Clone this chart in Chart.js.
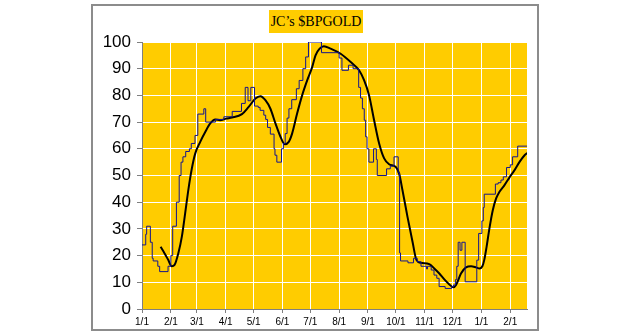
<!DOCTYPE html>
<html>
<head>
<meta charset="utf-8">
<script src="https://cdn.jsdelivr.net/npm/chart.js@4"></script>
<style>
  body { margin: 0; background: #fff; }
  #wrap { position: relative; width: 630px; height: 336px; }
  #title {
    position: absolute; left: 269px; top: 10px; width: 94px; height: 23px;
    background: #FFCC00; font: 14px "Liberation Serif", "Times New Roman", serif;
    line-height: 24px; text-align: center; color: #000;
  }
</style>
</head>
<body>
<div id="wrap">
  <canvas id="chart" width="630" height="336"></canvas>
  <div id="title">JC’s $BPGOLD</div>
</div>
<script>
// days counted from 1/1
const monthDays = [0, 31, 59, 90, 120, 151, 181, 212, 243, 273, 304, 334, 365, 396];
const monthLabels = ["1/1", "2/1", "3/1", "4/1", "5/1", "6/1", "7/1", "8/1", "9/1", "10/1", "11/1", "12/1", "1/1", "2/1"];

// $BPGOLD (step line) - day where the value changes, and the new value
const bpDays = [0, 4, 5, 9, 11, 12, 17, 19, 28, 31, 33, 37, 40, 42, 44, 47, 51, 53, 57, 60, 66.5, 68.5, 79, 88, 97,
  107, 111, 114, 117, 121, 125, 127, 131, 133, 135, 138, 142, 143, 145, 150, 152, 154, 156, 158, 161, 166, 169, 173, 176, 179,
  193, 212, 215, 222, 227, 233, 235, 237, 239, 240.5, 242, 244, 249, 252, 253, 263, 267, 271, 275.5, 277, 278,
  286, 292, 296, 300, 306, 307, 311, 314, 317, 319.5, 326, 333, 335, 337, 338.5, 340, 342, 344, 347.5,
  360, 362, 365.5, 367, 368, 380, 383, 386, 388.5, 392, 396, 398.5, 404, 414];
const bpValues = [24, 28, 31, 25, 19, 18, 16, 14, 16, 20, 31, 40, 50, 55, 57, 59, 60, 62, 65, 73, 75, 70, 71, 72, 74,
  77, 83, 78, 83, 76, 75.5, 74.4, 72.6, 71, 68, 65.5, 60, 57.6, 55, 60, 62, 65.7, 71.5, 75, 78.4, 82.5, 85.6, 90, 94.4, 100,
  96, 94, 89.4, 91.3, 90, 83, 79, 75, 70.7, 64.5, 60, 55, 60, 56, 50, 52.5, 53.5, 57, 51, 21, 18,
  17.3, 19, 17.7, 16, 15, 16, 14.6, 12.7, 11.5, 8.4, 7.7, 8.4, 9, 11, 16, 25, 22, 25, 10.2,
  18.3, 28.3, 33, 38, 43, 46.8, 47.3, 48.3, 49.5, 53, 54, 57, 61, 61];

// moving average (smooth black line)
const avgDays = [20, 24, 28, 32, 35, 39, 42.8, 46.4, 50, 53.6, 57.2, 62.6, 68, 73.4, 78.7, 84, 90.6, 96.7, 107.5, 114.7,
  121.9, 127.3, 132.7, 138.1, 143.5, 148.9, 153.5, 157.8, 161.4, 166.8, 172.2, 177.6, 183, 186.6, 191, 195.6, 202.8,
  213.6, 224.4, 233.4, 238.8, 244.2, 249.6, 255, 260.4, 265.7, 272.9, 276.5, 280.1, 285.5, 290.9, 295.2, 299.9, 308.9,
  314.3, 319.7, 325.1, 330.5, 334.8, 337.7, 343, 348.4, 353.8, 359.2, 363, 366, 368, 370.5, 373.6, 377.2, 380.8, 384.4,
  389.8, 395.2, 400.6, 406, 411.4, 414.2];
const avgValues = [23.3, 21, 18.5, 16, 16.5, 20.8, 27, 35.8, 45, 52.6, 58.2, 62.6, 66.3, 69.5, 71, 70.7, 71.3, 71.7, 73, 75.7,
  78.8, 79.7, 78.2, 75, 69.5, 64.5, 61.7, 62.6, 65.7, 73.2, 80, 85.6, 90.6, 95, 97.5, 98.4, 97.5,
  95.6, 92.5, 89.4, 85.7, 80, 70.7, 62, 56.4, 54.2, 53.2, 50.7, 44.5, 34.5, 25.2, 18.3, 17.3, 16.8,
  15.2, 13.3, 11.1, 9.2, 8.1, 9, 13.3, 15.6, 16, 15.6, 15.2, 16, 18.3, 23.2, 30.2, 37, 41.4, 43.9,
  46.4, 49.3, 52, 55.1, 57.6, 58.4];

// fond jaune + cadre gris
const backdrop = {
  id: "backdrop",
  beforeDraw(chart) {
    const ctx = chart.ctx;
    const a = chart.chartArea;
    ctx.save();
    ctx.strokeStyle = "#8c8c8c";
    ctx.lineWidth = 2;
    ctx.strokeRect(92, 5, 446, 325);
    ctx.fillStyle = "#FFCC00";
    ctx.fillRect(a.left, a.top, a.right - a.left, a.bottom - a.top);
    ctx.restore();
  }
};

new Chart(document.getElementById("chart"), {
  type: "line",
  data: {
    datasets: [
      {
        data: bpDays.map((d, i) => ({ x: d, y: bpValues[i] })),
        borderColor: "#14148c",
        borderWidth: 1,
        stepped: true,
        pointRadius: 0,
        fill: false
      },
      {
        data: avgDays.map((d, i) => ({ x: d, y: avgValues[i] })),
        borderColor: "#000",
        borderWidth: 2,
        cubicInterpolationMode: "monotone",
        pointRadius: 0,
        fill: false
      }
    ]
  },
  options: {
    responsive: false,
    animation: false,
    layout: { padding: { left: 92, top: 42, right: 103, bottom: 6 } },
    plugins: { legend: { display: false }, tooltip: { enabled: false } },
    scales: {
      x: {
        type: "linear",
        min: 0,
        max: 414,
        afterBuildTicks: scale => { scale.ticks = monthDays.map(v => ({ value: v })); },
        afterFit: scale => { scale.height = 21; },
        ticks: {
          autoSkip: false,
          maxRotation: 0,
          padding: 3,
          color: "#000",
          font: { family: "Liberation Sans, Arial", size: 10 },
          callback: v => monthLabels[monthDays.indexOf(v)]
        },
        grid: { color: "#fff", lineWidth: 1, tickColor: "#808080", tickLength: 4 },
        border: { color: "#808080", width: 1 }
      },
      y: {
        min: 0,
        max: 100,
        afterFit: scale => { scale.width = 50; },
        ticks: {
          stepSize: 10,
          padding: 6,
          color: "#000",
          font: { family: "Liberation Sans, Arial", size: 17 }
        },
        grid: { color: "#fff", lineWidth: 1, tickColor: "#808080", tickLength: 5 },
        border: { color: "#808080", width: 1 }
      }
    }
  },
  plugins: [backdrop]
});
</script>
</body>
</html>
